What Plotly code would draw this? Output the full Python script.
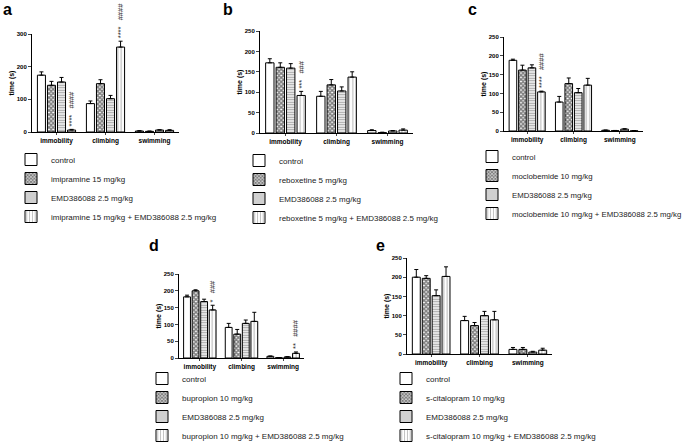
import plotly.graph_objects as go

W, H = 685, 443

categories = ['immobility', 'climbing', 'swimming']

a_labels = ['control', 'imipramine 15 mg/kg', 'EMD386088 2.5 mg/kg',
            'imipramine 15 mg/kg + EMD386088 2.5 mg/kg']
a_means = [[174, 87, 3], [143, 148, 2], [153, 102, 6], [6, 260, 5]]
a_errs = [[10, 8, 1], [12, 12, 1], [14, 10, 1], [2, 18, 2]]
a_marks = [(3, 0, '****   ####'), (3, 1, '****   ####')]

b_labels = ['control', 'reboxetine 5 mg/kg', 'EMD386088 2.5 mg/kg',
            'reboxetine 5 mg/kg + EMD386088 2.5 mg/kg']
b_means = [[172, 90, 6], [161, 118, 1], [159, 103, 5], [92, 137, 7]]
b_errs = [[10, 12, 2], [11, 13, 1], [11, 10, 1], [10, 13, 3]]
b_marks = [(3, 0, '***   ###')]

c_labels = ['control', 'moclobemide 10 mg/kg', 'EMD386088 2.5 mg/kg',
            'moclobemide 10 mg/kg + EMD386088 2.5 mg/kg']
c_means = [[188, 77, 2], [162, 126, 1], [168, 102, 5], [104, 122, 0.5]]
c_errs = [[3, 15, 0.5], [13, 15, 0.5], [8, 11, 1], [2, 18, 0.5]]
c_marks = [(3, 0, '****   ####')]

d_labels = ['control', 'bupropion 10 mg/kg', 'EMD386088 2.5 mg/kg',
            'bupropion 10 mg/kg + EMD386088 2.5 mg/kg']
d_means = [[182, 91, 5], [200, 71, 1], [168, 103, 3], [143, 109, 14]]
d_errs = [[5, 12, 1], [3, 14, 0.5], [7, 10, 1], [14, 27, 4]]
d_marks = [(3, 0, '*   ###'), (3, 2, '**   ####')]

e_labels = ['control', 's-citalopram 10 mg/kg', 'EMD386088 2.5 mg/kg',
            's-citalopram 10 mg/kg + EMD386088 2.5 mg/kg']
e_means = [[200, 87, 12], [197, 74, 12], [152, 100, 5], [202, 89, 10]]
e_errs = [[20, 11, 5], [7, 8, 5], [15, 11, 2], [25, 22, 5]]
e_marks = []

FONT = 'Liberation Sans, Arial, sans-serif'
BARGAP = 0.18
PATTERNS = [
    dict(shape=''),
    dict(shape='x', fgcolor='#000', size=3, solidity=0.75),
    dict(shape='-', fgcolor='#444', size=2.5, solidity=0.5),
    dict(shape='|', fgcolor='#222', size=3.5, solidity=0.2),
]

# panel geometry in pixels: plot box, letter position, legend position
panels = [
    dict(letter='a', labels=a_labels, means=a_means, errs=a_errs, marks=a_marks,
         x0=32, x1=179, yb=132, yt=34, ymax=300, dtick=100, lx=1, ly=9,
         gx=11, gy=145, gs=8),
    dict(letter='b', labels=b_labels, means=b_means, errs=b_errs, marks=b_marks,
         x0=260, x1=413, yb=133, yt=31, ymax=250, dtick=50, lx=221, ly=10,
         gx=239, gy=146, gs=8),
    dict(letter='c', labels=c_labels, means=c_means, errs=c_errs, marks=c_marks,
         x0=504, x1=643, yb=131, yt=37, ymax=250, dtick=50, lx=466, ly=9,
         gx=472, gy=142, gs=7.8),
    dict(letter='d', labels=d_labels, means=d_means, errs=d_errs, marks=d_marks,
         x0=179, x1=304, yb=358, yt=274, ymax=250, dtick=50, lx=147, ly=246,
         gx=142, gy=364, gs=8),
    dict(letter='e', labels=e_labels, means=e_means, errs=e_errs, marks=e_marks,
         x0=407, x1=552, yb=354, yt=258, ymax=250, dtick=50, lx=374, ly=246,
         gx=386, gy=364, gs=8),
]

fig = go.Figure()
annotations = []
layout = {}

for k, p in enumerate(panels):
    n = '' if k == 0 else str(k + 1)
    leg = 'legend' + n
    for i, lab in enumerate(p['labels']):
        fig.add_trace(go.Bar(
            x=[0, 1, 2], y=p['means'][i], name=lab,
            xaxis='x' + n, yaxis='y' + n, legend=leg,
            offsetgroup=str(i),
            marker=dict(color='white', line=dict(color='black', width=1),
                        pattern=PATTERNS[i]),
            error_y=dict(type='data', array=p['errs'][i], arrayminus=[0, 0, 0],
                         symmetric=False, color='black', thickness=1, width=2),
        ))
    layout['xaxis' + n] = dict(
        domain=[p['x0'] / W, p['x1'] / W], anchor='y' + n, range=[-0.5, 2.5],
        tickvals=[0, 1, 2], ticktext=categories, ticks='outside', ticklen=2,
        showline=True, linecolor='black', linewidth=1, showgrid=False, zeroline=False,
        tickfont=dict(family=FONT, size=6.5, color='black', weight='bold'),
    )
    layout['yaxis' + n] = dict(
        domain=[1 - p['yb'] / H, 1 - p['yt'] / H], anchor='x' + n,
        range=[0, p['ymax']], dtick=p['dtick'], ticks='outside', ticklen=3,
        showline=True, linecolor='black', linewidth=1, showgrid=False, zeroline=False,
        tickfont=dict(family=FONT, size=6, color='black', weight='bold'),
        title=dict(text='time (s)', standoff=1,
                   font=dict(family=FONT, size=7, color='black', weight='bold')),
    )
    layout[leg] = dict(
        x=p['gx'] / W, y=1 - p['gy'] / H, xanchor='left', yanchor='top',
        bgcolor='rgba(0,0,0,0)', traceorder='normal',
        font=dict(family=FONT, size=p['gs'], color='#222'),
    )
    annotations.append(dict(
        text='<b>' + p['letter'] + '</b>', xref='paper', yref='paper',
        x=p['lx'] / W, y=1 - p['ly'] / H, xanchor='left', yanchor='middle',
        showarrow=False, font=dict(family=FONT, size=16, color='black'),
    ))
    slot = (1 - BARGAP) / 4
    for (si, ci, txt) in p['marks']:
        annotations.append(dict(
            text=txt, xref='x' + n, yref='y' + n,
            x=ci - (1 - BARGAP) / 2 + slot * (si + 0.5),
            y=p['means'][si][ci] + p['errs'][si][ci],
            xanchor='center', yanchor='bottom', yshift=1, textangle=-90,
            showarrow=False, font=dict(family=FONT, size=7.5, color='#222'),
        ))

fig.update_layout(
    **layout,
    annotations=annotations,
    barmode='group', bargap=BARGAP, bargroupgap=0.2,
    width=W, height=H, margin=dict(l=0, r=0, t=0, b=0, autoexpand=False),
    paper_bgcolor='white', plot_bgcolor='white',
    showlegend=True,
)

# the page body has a default 8px margin; drop it so the figure fills the window
fig.write_html("out.html", config={'displayModeBar': False},
               post_script="document.body.style.margin='0';")
